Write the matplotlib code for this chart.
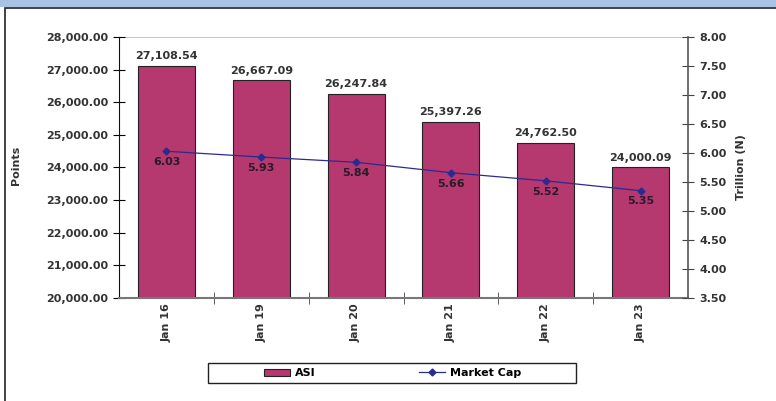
import matplotlib

matplotlib.use("Agg")
import matplotlib.pyplot as plt
from matplotlib.patches import Rectangle

plt.rcParams["font.family"] = ["DejaVu Sans"]
plt.rcParams["font.weight"] = "bold"

dates = ["Jan 16", "Jan 19", "Jan 20", "Jan 21", "Jan 22", "Jan 23"]
asi = [27108.54, 26667.09, 26247.84, 25397.26, 24762.50, 24000.09]
market_cap = [6.03, 5.93, 5.84, 5.66, 5.52, 5.35]

bar_color = "#b5386f"
line_color = "#2b2b8f"
text_color = "#333333"
fs = 8

fig = plt.figure(figsize=(7.76, 4.01), dpi=100)

# top band and outer frame
fig.patches.append(Rectangle((0, 0.982), 1, 0.018, transform=fig.transFigure,
                             facecolor="#a9c3e6", edgecolor="none"))
fig.patches.append(Rectangle((0.006, -0.01), 1.0, 0.99, transform=fig.transFigure,
                             facecolor="none", edgecolor="#222222", linewidth=1.2))

ax = fig.add_axes([0.1534, 0.2569, 0.7332, 0.6508])
x = list(range(len(dates)))
bars = ax.bar(x, asi, width=0.6, color=bar_color, edgecolor="#222222", linewidth=0.8, zorder=2)
ax.set_xlim(-0.5, len(dates) - 0.5)
ax.set_ylim(20000, 28000)
ax.set_yticks(range(20000, 28001, 1000))
ax.set_yticklabels([f"{v:,.2f}" for v in range(20000, 28001, 1000)])
ax.set_ylabel("Points", fontsize=fs, fontweight="bold", color=text_color)
ax.yaxis.set_label_coords(-0.172, 0.51)

ax.set_xticks(x)
ax.set_xticklabels(dates, rotation=90)
ax.set_xticks([i + 0.5 for i in range(len(dates) - 1)], minor=True)
ax.tick_params(axis="x", which="major", length=0, pad=4, labelsize=fs, labelcolor=text_color)
ax.tick_params(axis="x", which="minor", length=8, direction="inout", color="#444444")
ax.tick_params(axis="y", length=8, direction="inout", labelsize=fs, labelcolor=text_color, pad=4)

for spine in ["top", "right"]:
    ax.spines[spine].set_visible(False)
ax.spines["left"].set_color("#111111")
ax.spines["bottom"].set_color("#777777")
ax.spines["bottom"].set_linewidth(1.5)
ax.axhline(28000, color="#bbbbbb", linewidth=1.2, zorder=1)

for rect, v in zip(bars, asi):
    ax.text(rect.get_x() + rect.get_width() / 2, v + 150, f"{v:,.2f}",
            ha="center", va="bottom", fontsize=fs, fontweight="bold", color=text_color)

ax2 = ax.twinx()
ax2.set_ylim(3.5, 8.0)
ax2.set_yticks([3.5 + 0.5 * i for i in range(10)])
ax2.set_yticklabels([f"{3.5 + 0.5 * i:.2f}" for i in range(10)])
ax2.tick_params(axis="y", length=8, direction="inout", labelsize=fs, labelcolor=text_color, pad=4,
                color="#444444")
for spine in ["top", "left", "bottom"]:
    ax2.spines[spine].set_visible(False)
ax2.spines["right"].set_color("#555555")
ax2.spines["right"].set_linewidth(1.2)
ax2.set_ylabel("Trillion (N)", fontsize=fs, fontweight="bold", color=text_color)
ax2.yaxis.set_label_coords(1.0844, 0.5)

ax2.plot(x, market_cap, color=line_color, linewidth=0.9, marker="D", markersize=3.5, zorder=3)
for xi, v in zip(x, market_cap):
    ax2.text(xi, v - 0.1, f"{v:.2f}", ha="center", va="top", fontsize=fs,
             fontweight="bold", color="#2a1a2a")

# legend box drawn separately so its width matches the original
fig.patches.append(Rectangle((208 / 776, (401 - 383) / 401), 368 / 776, 20 / 401,
                             transform=fig.transFigure, facecolor="white",
                             edgecolor="#222222", linewidth=1.0))
handles = [bars, ax2.lines[0]]
fig.legend(handles, ["ASI", "Market Cap"], loc="center", bbox_to_anchor=(0.506, 0.0698),
           ncol=2, frameon=False, fontsize=fs, handlelength=2.3, handleheight=0.6,
           columnspacing=9.3, borderpad=0.2, handletextpad=0.45)

fig.savefig("out.png", dpi=100)
